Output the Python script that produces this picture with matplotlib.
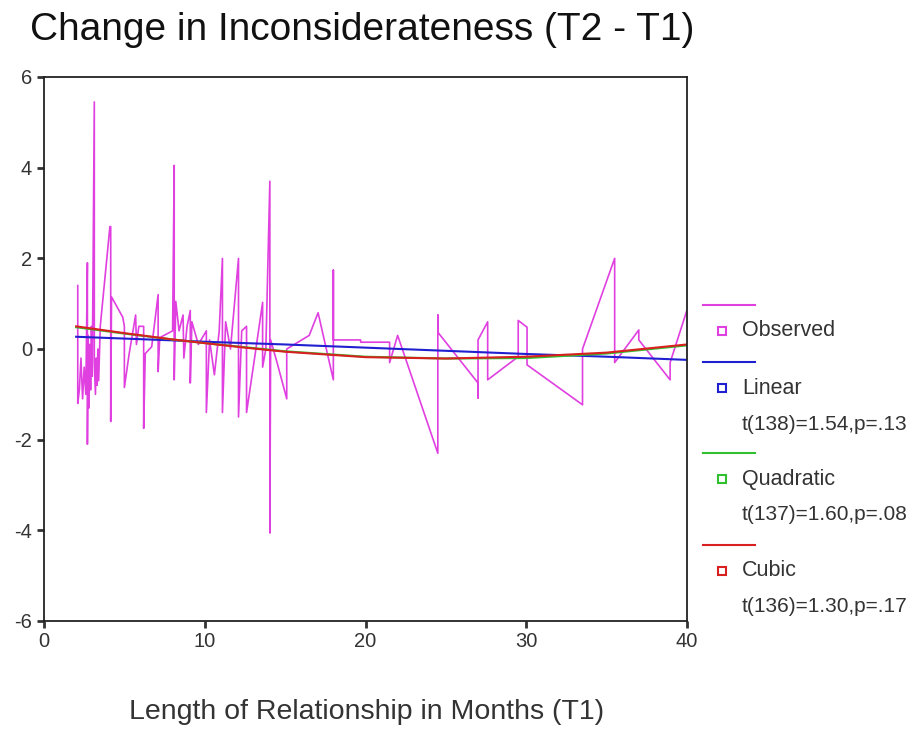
import matplotlib
matplotlib.use("Agg")
import matplotlib.pyplot as plt
from matplotlib import font_manager
from matplotlib.lines import Line2D

# observed change scores, sorted by length of relationship (months)
obs_x = [2.1, 2.1, 2.2, 2.3, 2.4, 2.5, 2.6, 2.7, 2.7, 2.75,
         2.8, 2.85, 2.9, 2.95, 3.0, 3.13, 3.13, 3.2, 3.25, 3.3,
         3.35, 3.4, 3.5, 3.8, 4.1, 4.15, 4.15,
         4.2, 4.9, 5.0, 5.0, 5.3, 5.7, 5.75, 5.9, 6.2, 6.2,
         6.3, 6.7, 7.1, 7.1, 7.2, 8.0, 8.1, 8.1, 8.2, 8.4,
         8.65, 8.7, 8.9, 9.1, 9.1, 9.2, 9.6, 10.1, 10.1, 10.3,
         10.6, 10.9, 11.1, 11.1, 11.3, 11.6, 12.1, 12.1, 12.3, 12.6,
         12.6, 13.1, 13.6, 13.6, 13.8, 14.05, 14.05, 14.1, 14.5, 15.1,
         15.1, 16.5, 17.05, 18.0, 18.0, 18.0, 19.7, 19.7, 21.5, 21.5,
         22.0, 24.5, 24.5, 24.5, 27.0, 27.0, 27.0, 27.6, 27.6, 29.5,
         29.5, 30.05, 30.05, 33.5, 33.5, 35.5, 35.5, 37.0, 37.0, 38.95,
         38.95, 40.0]
obs_y = [1.4, -1.2, -0.9, -0.2, -1.1, -0.4, -1.0, 1.9, -2.1, 0.3,
         -1.3, 0.1, -0.9, 0.5, -0.6, 5.45, -0.3, -1.0, -0.2, -0.8,
         0.0, -0.7, 0.5, 1.6, 2.7, 2.7, -1.6,
         1.15, 0.7, 0.5, -0.85, -0.1, 0.75, 0.1, 0.5, 0.5, -1.75,
         -0.1, 0.05, 1.2, -0.5, 0.25, 0.4, 4.05, -0.68, 1.05, 0.4,
         0.75, -0.2, 0.5, 0.85, -0.75, 0.6, 0.1, 0.4, -1.4, 0.2,
         -0.57, 0.4, 2.0, -1.4, 0.6, 0.0, 2.0, -1.5, 0.4, 0.5,
         -1.4, -0.2, 1.03, -0.4, 0.0, 3.7, -4.06, 0.2, -0.3, -1.1,
         0.0, 0.3, 0.8, -0.68, 1.74, 0.2, 0.2, 0.15, 0.15, -0.3,
         0.3, -2.3, 0.75, 0.37, -0.75, -1.08, 0.2, 0.6, -0.68, -0.17,
         0.63, 0.48, -0.35, -1.23, 0.0, 2.0, -0.3, 0.42, 0.2, -0.68,
         -0.3, 0.86]

# fitted curves
fit_x = [2, 5, 8, 10, 12.5, 15, 20, 25, 30, 35, 40]
linear_y = [0.27, 0.23, 0.19, 0.16, 0.13, 0.10, 0.03, -0.04, -0.11, -0.17, -0.24]
quad_y = [0.48, 0.34, 0.21, 0.13, 0.04, -0.05, -0.17, -0.21, -0.20, -0.10, 0.08]
cubic_y = [0.50, 0.35, 0.21, 0.13, 0.03, -0.06, -0.18, -0.21, -0.17, -0.08, 0.10]

x_ticks = [0, 10, 20, 30, 40]
y_ticks = [-6, -4, -2, 0, 2, 4, 6]

legend_items = [
    ("Observed", None, "#e040e0"),
    ("Linear", "t(138)=1.54,p=.13", "#2020d0"),
    ("Quadratic", "t(137)=1.60,p=.08", "#30c030"),
    ("Cubic", "t(136)=1.30,p=.17", "#d82020"),
]

names = {f.name for f in font_manager.fontManager.ttflist}
font = "Liberation Sans Narrow" if "Liberation Sans Narrow" in names else "Liberation Sans"
plt.rcParams["font.family"] = [font, "DejaVu Sans"]
plt.rcParams["axes.unicode_minus"] = False

W, H = 917, 729
fig = plt.figure(figsize=(W / 100, H / 100), dpi=100)
ax = fig.add_axes([44 / W, 1 - 621 / H, (687 - 44) / W, (621 - 77) / H])

ax.plot(obs_x, obs_y, color="#e040e0", lw=1.2)
ax.plot(fit_x, linear_y, color="#2020d0", lw=1.5)
ax.plot(fit_x, quad_y, color="#30c030", lw=1.5)
ax.plot(fit_x, cubic_y, color="#d82020", lw=1.5)

ax.set_xlim(0, 40)
ax.set_ylim(-6, 6)
ax.set_xticks(x_ticks)
ax.set_yticks(y_ticks)
ax.tick_params(direction="out", length=5, width=2, labelsize=14.5, colors="#333333")
ax.tick_params(axis="x", pad=3)
for s in ax.spines.values():
    s.set_linewidth(1.3)
    s.set_color("#222222")

fig.text(30 / W, 1 - 30 / H, "Change in Inconsiderateness (T2 - T1)",
         fontsize=28, ha="left", va="center", color="#111111")
fig.text(367 / W, 1 - 712 / H, "Length of Relationship in Months (T1)",
         fontsize=20.5, ha="center", va="center", color="#333333")

# legend in SPSS style, right of the plot
y_line = [305, 362, 453, 545]
for (label, stat, color), yl in zip(legend_items, y_line):
    fig.add_artist(Line2D([703 / W, 755 / W], [1 - yl / H, 1 - yl / H],
                          color=color, lw=1.5, transform=fig.transFigure))
    ysq = yl + 26
    fig.add_artist(Line2D([722 / W], [1 - ysq / H], marker="s", markersize=6,
                          markerfacecolor="white", markeredgecolor=color, mew=1.5,
                          transform=fig.transFigure))
    fig.text(742 / W, 1 - ysq / H, label, fontsize=15.5, ha="left", va="center",
             color="#333333")
    if stat:
        fig.text(742 / W, 1 - (ysq + 36) / H, stat, fontsize=15, ha="left",
                 va="center", color="#333333")

fig.savefig("out.png", dpi=100)
